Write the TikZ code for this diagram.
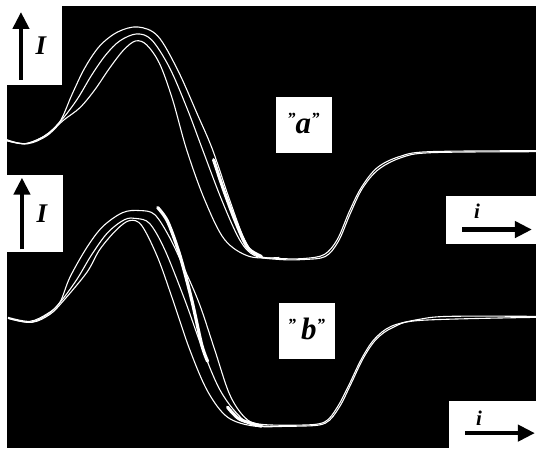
\documentclass[tikz,border=0pt]{standalone}
\usepackage{fontspec}
\setmainfont{Liberation Serif}
\usetikzlibrary{arrows.meta}

\begin{document}
\begin{tikzpicture}[x=1pt,y=-1pt]

		\tikzset{trace/.style = {draw=white,line width=1.1pt}}
		\tikzset{smear/.style = {draw=white,line width=3.2pt,line cap=round}}
		\tikzset{panel/.style = {shape=rectangle,fill=white,inner sep=0pt,anchor=north west}}
		\tikzset{axis/.style = {-{Triangle[length=17pt,width=16pt]},line width=4.2pt}}
		\tikzset{lbl/.style = {font=\fontsize{27}{27}\selectfont\bfseries\itshape,inner sep=0pt}}
		% background
		\fill[white] (0,0) rectangle (537,449);
		\fill[black] (7,6) rectangle (537,449);
		% panels
		\node[panel,minimum width=62pt,minimum height=85pt] (boxI1) at (0,0) {};
		\node[panel,minimum width=63pt,minimum height=77pt] (boxI2) at (0,175) {};
		\node[panel,minimum width=56pt,minimum height=56pt] (boxa) at (276,97) {};
		\node[panel,minimum width=56pt,minimum height=57pt] (boxb) at (279,303) {};
		\node[panel,minimum width=90pt,minimum height=48pt] (boxi1) at (447,196) {};
		\node[panel,minimum width=87pt,minimum height=47pt] (boxi2) at (450,402) {};
		% labels
		\node[lbl] (I1) at (41,46) {I};
		\node[lbl] (I2) at (42,214) {I};
		\node[lbl,font=\fontsize{31}{31}\selectfont\bfseries\itshape] (a) at (304,124) {\raisebox{9pt}{\fontsize{17}{17}\selectfont"}a\raisebox{9pt}{\fontsize{17}{17}\selectfont"}};
		\node[lbl,font=\fontsize{31}{31}\selectfont\bfseries\itshape] (b) at (307,330) {\raisebox{9pt}{\fontsize{17}{17}\selectfont"}\,b\raisebox{9pt}{\fontsize{17}{17}\selectfont"}};
		\node[lbl,font=\fontsize{21}{21}\selectfont\bfseries\itshape] (i1) at (478,212) {i};
		\node[lbl,font=\fontsize{21}{21}\selectfont\bfseries\itshape] (i2) at (480,419) {i};
		\coordinate (I1tail) at (21,80);
		\coordinate (I1head) at (21,12);
		\coordinate (I2tail) at (22,250);
		\coordinate (I2head) at (22,178);
		\coordinate (i1tail) at (463,230);
		\coordinate (i1head) at (533,230);
		\coordinate (i2tail) at (466,434);
		\coordinate (i2head) at (536,434);
		\draw[axis] (I1tail) -- (I1head);
		\draw[axis] (I2tail) -- (I2head);
		\draw[axis] (i1tail) -- (i1head);
		\draw[axis] (i2tail) -- (i2head);
		% traces "a"
		\draw[trace] plot[smooth,tension=0.55] coordinates {(7,140) (25,144) (45,136) (60,122) (72,95) (85,68) (100,46) (118,32) (138,27) (158,36) (178,70) (198,115) (213,150) (230,200) (245,240) (258,256) (280,259) (305,259) (325,255) (338,240) (350,212) (362,188) (378,168) (400,157) (430,152) (537,151)};
		\draw[trace] plot[smooth,tension=0.55] coordinates {(7,141) (25,144) (45,136) (61,121) (77,100) (92,75) (106,55) (120,41) (137,34) (152,40) (170,68) (188,110) (203,150) (222,200) (240,240) (255,256) (280,260) (305,260) (326,257) (339,242) (351,214) (363,189) (379,170) (402,158) (432,153) (537,152)};
		\draw[trace] plot[smooth,tension=0.55] coordinates {(7,141) (28,144) (47,136) (63,121) (80,108) (95,90) (110,68) (124,50) (136,41) (147,45) (160,64) (173,100) (187,150) (205,200) (225,240) (250,257) (280,258)};
		\draw[smear] plot[smooth] coordinates {(214,160) (224,190) (236,222) (248,248) (262,257)};
		% traces "b"
		\draw[trace] plot[smooth,tension=0.55] coordinates {(8,318) (30,322) (48,314) (60,303) (70,278) (87,248) (103,227) (123,213) (140,211) (155,215) (170,238) (185,270) (200,305) (215,350) (230,395) (245,418) (260,425) (300,426) (325,423) (338,408) (350,385) (362,360) (375,340) (392,327) (420,320) (450,317) (537,317)};
		\draw[trace] plot[smooth,tension=0.55] coordinates {(8,319) (30,323) (48,315) (61,302) (77,280) (92,255) (108,233) (125,220) (137,219) (150,224) (165,250) (185,300) (203,350) (220,390) (238,415) (255,426) (300,427) (326,424) (340,408) (352,384) (364,359) (377,340) (394,328) (422,321) (537,318)};
		\draw[trace] plot[smooth,tension=0.55] coordinates {(8,319) (32,323) (50,315) (63,302) (87,273) (100,250) (117,230) (130,221) (142,226) (158,258) (173,300) (190,350) (208,392) (228,418) (255,427) (290,427)};
		\draw[smear] plot[smooth] coordinates {(158,208) (168,222) (180,255) (192,300) (202,345) (208,362)};
		\draw[smear] plot[smooth] coordinates {(228,408) (240,420) (262,427)};
\end{tikzpicture}
\end{document}
